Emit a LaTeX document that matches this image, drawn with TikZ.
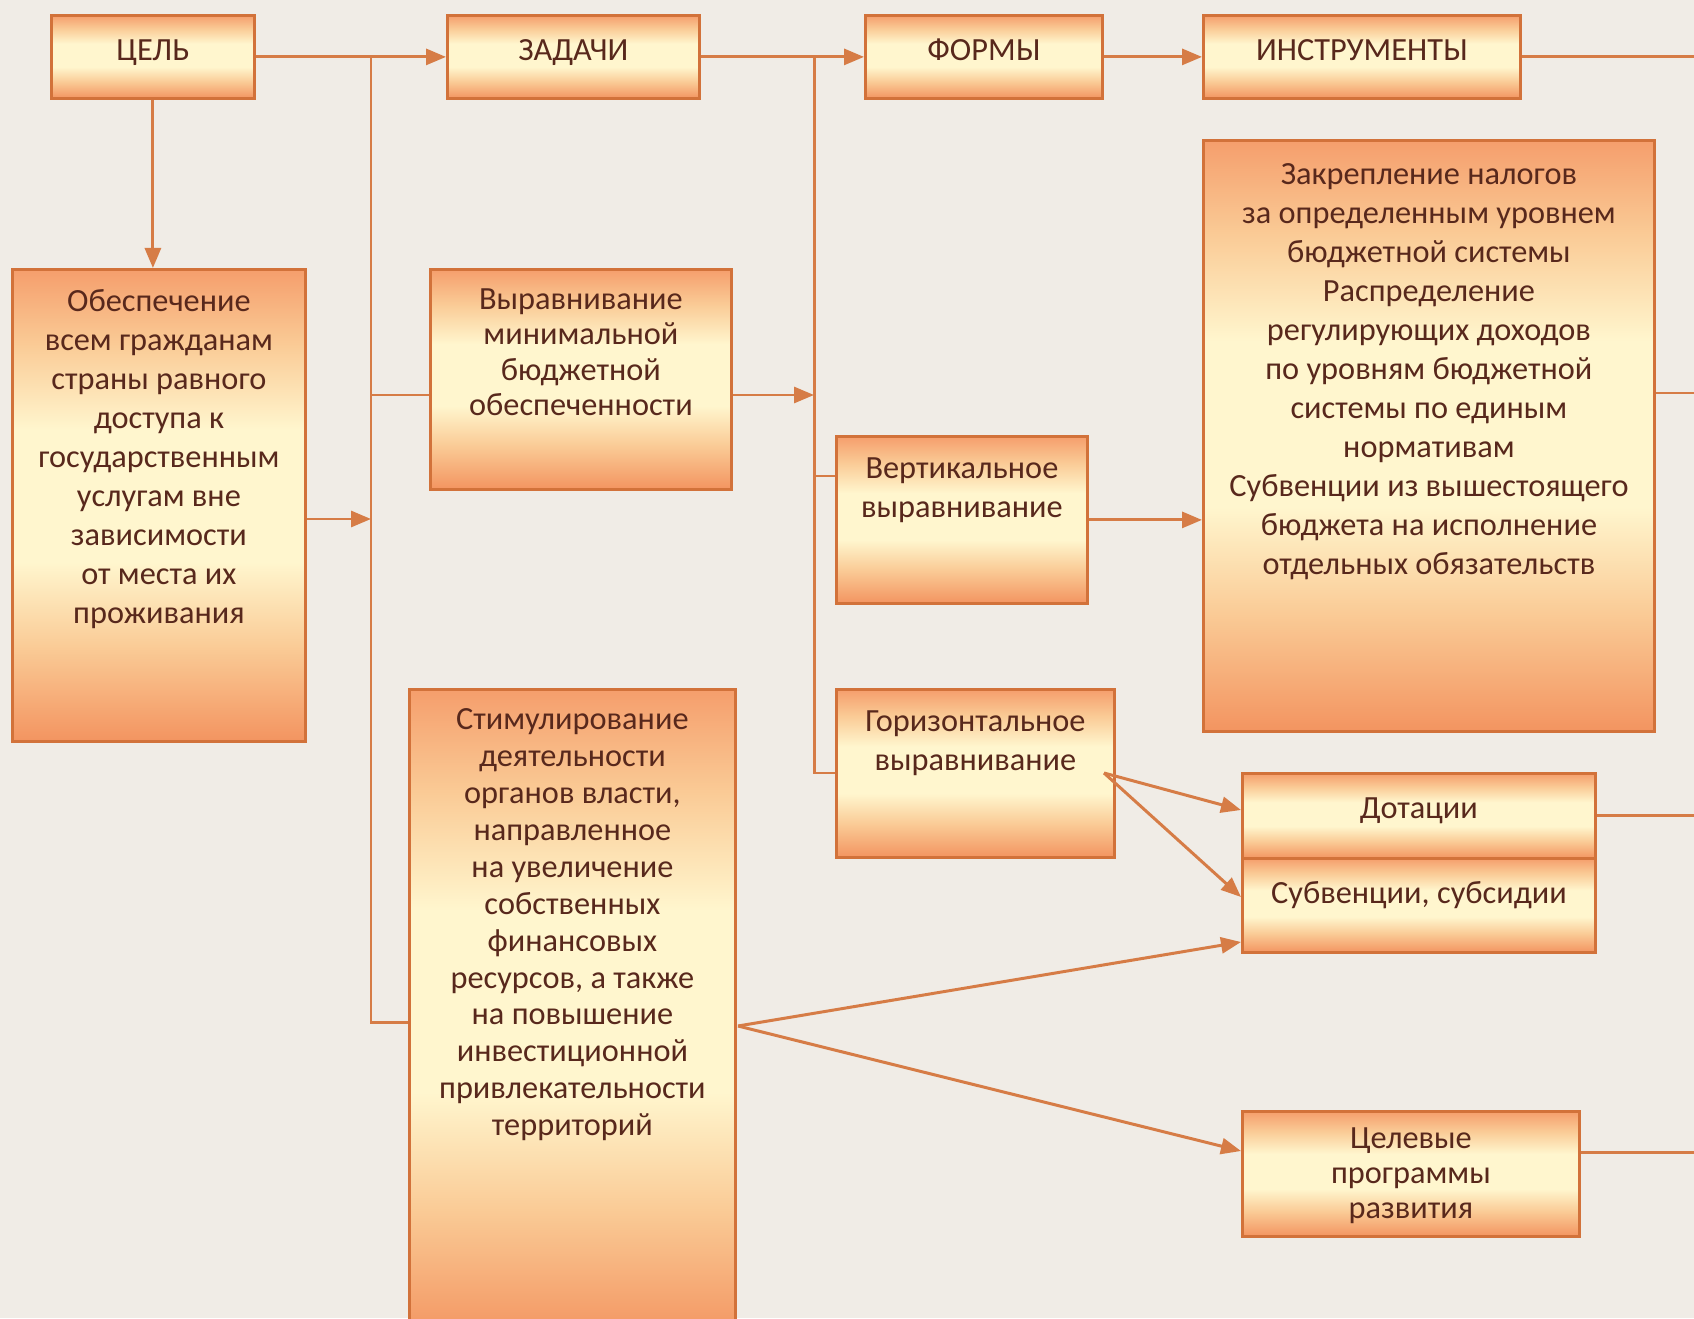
\documentclass[tikz,border=0pt]{standalone}
\usepackage{fontspec}
\setmainfont{Carlito}
\usepackage{tikz}
\usetikzlibrary{arrows.meta}
\usetikzlibrary{calc}
\definecolor{bgc}{RGB}{240,236,230}
\definecolor{linec}{RGB}{214,124,70}
\definecolor{borderc}{RGB}{210,114,58}
\definecolor{otop}{RGB}{245,158,108}
\definecolor{obot}{RGB}{243,148,96}
\definecolor{omid}{RGB}{250,203,150}
\definecolor{cream}{RGB}{255,246,206}
\definecolor{txtc}{RGB}{88,40,28}
\pgfdeclareverticalshading{boxfill}{100bp}{color(0bp)=(obot); color(25bp)=(obot); color(35bp)=(omid); color(44bp)=(cream); color(58bp)=(cream); color(67bp)=(omid); color(75bp)=(otop); color(100bp)=(otop)}

\begin{document}
\begin{tikzpicture}
	[blk/.style={draw=borderc, line width=0.8pt, shade, shading=boxfill, anchor=north west, inner sep=0},
	 txt/.style={font=\fontsize{9.2}{11.1}\selectfont, text=txtc, align=center, anchor=north, inner sep=0, execute at begin node=\strut},
	 ln/.style={draw=linec, line width=0.85pt},
	 arr/.style={ln, -{Triangle[length=0.2cm,width=0.16cm]}}]
	\useasboundingbox (0,0) rectangle (16.94,13.18);
	\fill[bgc] (0,0) rectangle (16.94,13.18);
	\clip (0,0) rectangle (16.94,13.18);
	\coordinate (edge) at (16.94,0);

	% top row
	\node[blk, minimum width=2.03cm, minimum height=0.83cm] (cel) at (0.50,13.04) {};
	\node[blk, minimum width=2.52cm, minimum height=0.83cm] (zad) at (4.46,13.04) {};
	\node[blk, minimum width=2.37cm, minimum height=0.83cm] (form) at (8.64,13.04) {};
	\node[blk, minimum width=3.17cm, minimum height=0.83cm] (instr) at (12.02,13.04) {};
	\node[txt] (cel-t) at ([yshift=-0.18cm]cel.north) {ЦЕЛЬ};
	\node[txt] (zad-t) at ([yshift=-0.18cm]zad.north) {ЗАДАЧИ};
	\node[txt] (form-t) at ([yshift=-0.18cm]form.north) {ФОРМЫ};
	\node[txt] (instr-t) at ([yshift=-0.18cm]instr.north) {ИНСТРУМЕНТЫ};

	% goal and tasks
	\node[blk, minimum width=2.93cm, minimum height=4.72cm] (obesp) at (0.11,10.50) {};
	\node[txt] (obesp-t) at ([yshift=-0.21cm]obesp.north) {Обеспечение\\всем гражданам\\страны равного\\доступа к\\государственным\\услугам вне\\зависимости\\от места их\\проживания};
	\node[blk, minimum width=3.01cm, minimum height=2.20cm] (vyr) at (4.29,10.50) {};
	\node[txt, font=\fontsize{9.2}{10.1}\selectfont] (vyr-t) at ([yshift=-0.20cm]vyr.north) {Выравнивание\\минимальной\\бюджетной\\обеспеченности};
	\node[blk, minimum width=3.26cm, minimum height=6.50cm] (stim) at (4.08,6.30) {};
	\node[txt, font=\fontsize{9.2}{10.5}\selectfont] (stim-t) at ([yshift=-0.20cm]stim.north) {Стимулирование\\деятельности\\органов власти,\\направленное\\на увеличение\\собственных\\финансовых\\ресурсов, а также\\на повышение\\инвестиционной\\привлекательности\\территорий};

	% forms
	\node[blk, minimum width=2.51cm, minimum height=1.67cm] (vert) at (8.35,8.83) {};
	\node[txt] (vert-t) at ([yshift=-0.22cm]vert.north) {Вертикальное\\выравнивание};
	\node[blk, minimum width=2.78cm, minimum height=1.68cm] (goriz) at (8.35,6.30) {};
	\node[txt] (goriz-t) at ([yshift=-0.22cm]goriz.north) {Горизонтальное\\выравнивание};

	% instruments
	\node[blk, minimum width=4.51cm, minimum height=5.91cm] (zakr) at (12.02,11.79) {};
	\node[txt] (zakr-t) at ([yshift=-0.24cm]zakr.north) {Закрепление налогов\\за определенным уровнем\\бюджетной системы\\Распределение\\регулирующих доходов\\по уровням бюджетной\\системы по единым\\нормативам\\Субвенции из вышестоящего\\бюджета на исполнение\\отдельных обязательств};
	\node[blk, minimum width=3.53cm, minimum height=0.85cm] (dot) at (12.41,5.46) {};
	\node[txt] (dot-t) at ([yshift=-0.18cm]dot.north) {Дотации};
	\node[blk, minimum width=3.53cm, minimum height=0.94cm] (subv) at (12.41,4.61) {};
	\node[txt] (subv-t) at ([yshift=-0.18cm]subv.north) {Субвенции, субсидии};
	\node[blk, minimum width=3.37cm, minimum height=1.25cm] (prog) at (12.41,2.08) {};
	\node[txt, font=\fontsize{9.2}{10.0}\selectfont] (prog-t) at ([yshift=-0.17cm]prog.north) {Целевые\\программы\\развития};

	% connectors
	\draw[arr] (cel.east) -- (zad.west);
	\draw[arr] (zad.east) -- (form.west);
	\draw[arr] (form.east) -- (instr.west);
	\draw[arr] (cel.south) -- (cel.south |- obesp.north);

	\coordinate (bus1) at (3.71,12.62);
	\coordinate (bus1end) at (3.71,2.96);
	\draw[ln] (bus1) -- (bus1end) -- (stim.west |- bus1end);
	\draw[ln] (bus1 |- 0,9.23) -- (vyr.west |- 0,9.23);
	\draw[arr] (obesp.east |- 0,7.99) -- (bus1 |- 0,7.99);

	\coordinate (bus2) at (8.14,12.62);
	\coordinate (bus2end) at (8.14,5.45);
	\draw[ln] (bus2) -- (bus2end) -- (goriz.west |- bus2end);
	\draw[ln] (bus2 |- 0,8.42) -- (vert.west |- 0,8.42);
	\draw[arr] (vyr.east |- 0,9.23) -- (bus2 |- 0,9.23);
	\draw[arr] (vert.east) -- (zakr.west |- vert.east);

	\coordinate (gout) at (11.04,5.45);
	\draw[arr] (gout) -- (dot.west |- 0,5.08);
	\draw[arr] (gout) -- (subv.west |- 0,4.21);
	\coordinate (sout) at (7.38,2.92);
	\draw[arr] (sout) -- (subv.west |- 0,3.76);
	\draw[arr] (sout) -- (prog.west |- 0,1.67);

	\draw[ln] (instr.east) -- (instr.east -| edge);
	\draw[ln] (zakr.east |- 0,9.25) -- (edge |- 0,9.25);
	\draw[ln] (dot.east) -- (dot.east -| edge);
	\draw[ln] (prog.east |- 0,1.66) -- (edge |- 0,1.66);
\end{tikzpicture}
\end{document}
